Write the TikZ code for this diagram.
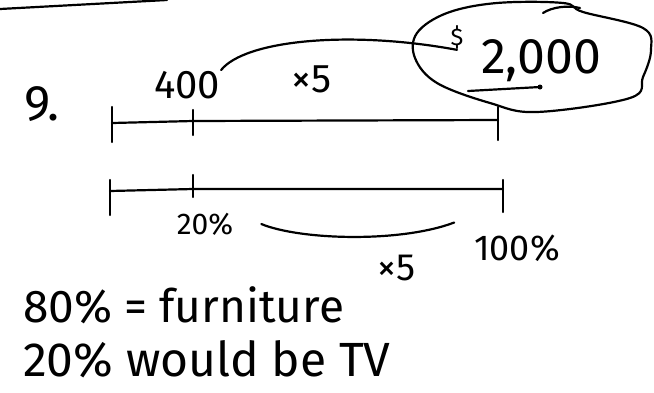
\documentclass[tikz,border=0pt]{standalone}
\usepackage{fontspec}
\setmainfont{Fira Sans}
\begin{document}
\begin{tikzpicture}[x=1pt,y=-1pt,line width=2.2pt,line cap=round,
    hand/.style={inner sep=0pt,font=\fontsize{#1pt}{#1pt}\selectfont}]
    \useasboundingbox (0,0) rectangle (654,392);
    % stroke left over from the line above
    \draw (0,9) -- (167,0);
    \def\tick#1#2#3{\draw (#1,#2) -- (#1,#3);}
    % top bar: dollars
    \draw (112,123) -- (193,121) -- (498,120);
    \tick{112}{107}{142}
    \tick{193}{110}{135}
    \tick{498}{107}{140}
    % bottom bar: percents
    \draw (110,191) -- (193,189) -- (503,189);
    \tick{110}{180}{215}
    \tick{193}{175}{197}
    \tick{503}{180}{212}
    % labels
    \node[hand=50] (nine) at (42,104) {9.};
    \node[hand=40] (four) at (187,85) {400};
    \node[hand=40] (timesA) at (312,79) {×5};
    \node[hand=24] (dollar) at (457,37) {\$};
    \node[hand=50] (total) at (541,61) {2,000};
    \node[hand=30] (twenty) at (205,224) {20\%};
    \node[hand=36] (hundred) at (517,248) {100\%};
    \node[hand=38] (timesB) at (397,268) {×5};
    \node[hand=46,anchor=west] (furn) at (22,305) {80\% = furniture};
    \node[hand=48,anchor=west] (tv) at (22,359) {20\% would be TV};
    % circle round the total
    \draw plot[smooth cycle,tension=0.6] coordinates {(583,12) (643,28)
      (651,50) (643,77) (630,98) (537,112) (490,103) (437,83) (415,58)
      (417,33) (447,13) (497,3) (563,3)};
    \draw (543,13) .. controls (552,7) and (568,5) .. (580,8);
    \draw (468,91) -- (540,87);
    \fill (540,87) circle (2.5);
    % times five links
    \draw (four.north east) .. controls (245,40) and (350,30) .. (dollar.south);
    \draw ([xshift=27pt]twenty.east) .. controls (300,240) and (400,243)
      .. ([shift={(-19pt,11pt)}]hundred.north west);
\end{tikzpicture}
\end{document}
